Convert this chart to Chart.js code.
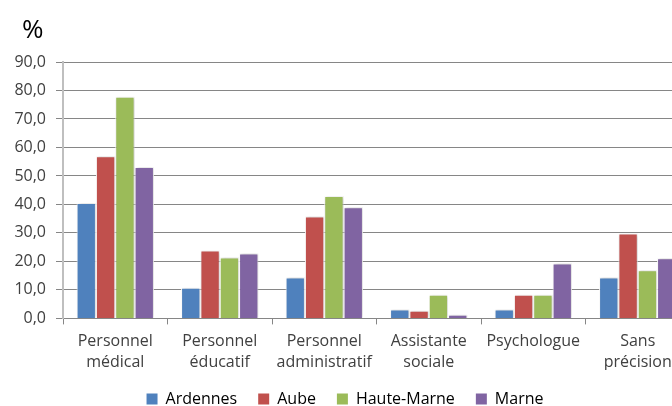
<!DOCTYPE html>
<html>
<head>
<meta charset="utf-8">
<script src="https://cdn.jsdelivr.net/npm/chart.js@4.4.0/dist/chart.umd.min.js"></script>
<style>
    html, body { margin: 0; padding: 0; background: #fff; overflow: hidden; }
    #wrap { position: relative; width: 690px; height: 417px; }
</style>
</head>
<body>
<div id="wrap"><canvas id="chart"></canvas></div>
<script>
// Data
const categories = [
    ['Personnel', 'médical'],
    ['Personnel', 'éducatif'],
    ['Personnel', 'administratif'],
    ['Assistante', 'sociale'],
    ['Psychologue'],
    ['Sans', 'précision']
];
const ardennes   = [40.5, 10.8, 14.4, 3.1, 3.1, 14.4];
const aube       = [56.9, 23.8, 35.8, 2.7, 8.3, 29.8];
const hauteMarne = [77.8, 21.4, 43.0, 8.3, 8.3, 16.9];
const marne      = [53.1, 22.8, 39.0, 1.3, 19.3, 21.1];
const yTicks = [0, 10, 20, 30, 40, 50, 60, 70, 80, 90];

const FONT = '"Open Sans", sans-serif';
const TEXT = '#404040';

// "%" label top left
const percentLabel = {
    id: 'percentLabel',
    afterDraw(chart) {
        const ctx = chart.ctx;
        ctx.save();
        ctx.font = '26px ' + FONT;
        ctx.fillStyle = '#000';
        ctx.textBaseline = 'alphabetic';
        ctx.fillText('%', 22, 38);
        ctx.restore();
    }
};

// soft shadow behind the bars
const barShadow = {
    id: 'barShadow',
    beforeDatasetsDraw(chart) {
        const ctx = chart.ctx;
        ctx.save();
        ctx.shadowColor = 'rgba(0, 0, 0, 0.22)';
        ctx.shadowBlur = 3;
        ctx.shadowOffsetX = 1;
        ctx.shadowOffsetY = 0;
    },
    afterDatasetsDraw(chart) {
        chart.ctx.restore();
    }
};

function ds(label, data, color) {
    return {
        label: label,
        data: data,
        backgroundColor: color,
        borderColor: '#ffffff',
        borderWidth: 1
    };
}

new Chart(document.getElementById('chart'), {
    type: 'bar',
    data: {
        labels: categories,
        datasets: [
            ds('Ardennes', ardennes, '#4F81BD'),
            ds('Aube', aube, '#C0504D'),
            ds('Haute-Marne', hauteMarne, '#9BBB59'),
            ds('Marne', marne, '#8064A2')
        ]
    },
    options: {
        responsive: true,
        maintainAspectRatio: false,
        animation: false,
        layout: { padding: { top: 62, left: 0, right: 0, bottom: 0 } },
        datasets: { bar: { categoryPercentage: 0.74, barPercentage: 1 } },
        plugins: {
            legend: {
                position: 'bottom',
                labels: {
                    font: { family: FONT, size: 16 },
                    color: TEXT,
                    boxWidth: 11,
                    boxHeight: 11,
                    padding: 21,
                    generateLabels(chart) {
                        return chart.data.datasets.map((d, i) => ({
                            text: d.label,
                            fillStyle: d.backgroundColor,
                            strokeStyle: d.backgroundColor,
                            lineWidth: 0,
                            datasetIndex: i
                        }));
                    }
                }
            },
            tooltip: { enabled: false }
        },
        scales: {
            x: {
                afterFit(axis) { axis.height -= 10; },
                grid: {
                    offset: true,
                    drawOnChartArea: false,
                    drawTicks: true,
                    tickLength: 6,
                    color: '#868686'
                },
                border: { color: '#868686', width: 1 },
                ticks: {
                    font: { family: FONT, size: 16, lineHeight: 1.3 },
                    color: TEXT,
                    maxRotation: 0,
                    autoSkip: false,
                    padding: 7
                }
            },
            y: {
                min: 0,
                max: 90,
                afterBuildTicks(axis) {
                    axis.ticks = yTicks.map(v => ({ value: v }));
                },
                afterFit(axis) { axis.width = 63; },
                grid: {
                    color: '#868686',
                    lineWidth: 1,
                    tickLength: 7
                },
                border: { color: '#BFBFBF', width: 2 },
                ticks: {
                    font: { family: FONT, size: 16 },
                    color: TEXT,
                    padding: 10,
                    callback: v => v.toFixed(1).replace('.', ',')
                }
            }
        }
    },
    plugins: [percentLabel, barShadow]
});
</script>
</body>
</html>
